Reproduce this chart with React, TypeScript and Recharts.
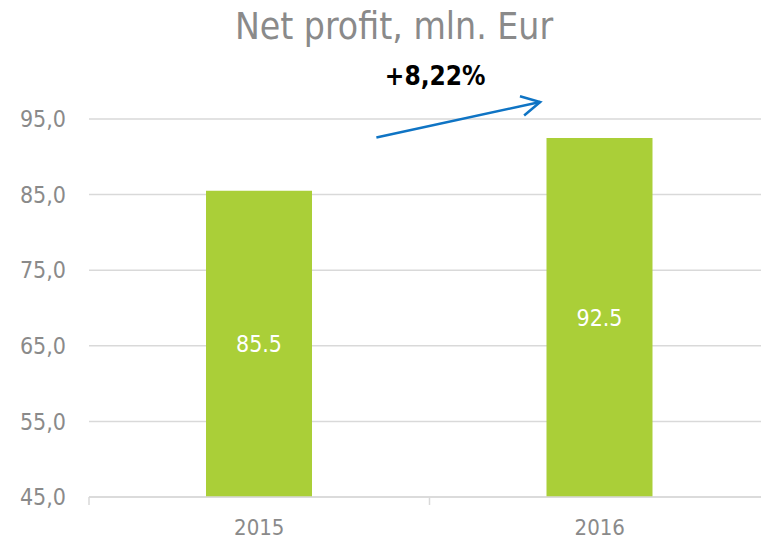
import React from 'react'
import {
  BarChart, Bar, XAxis, YAxis, CartesianGrid, LabelList, ReferenceLine,
} from 'recharts'

const years = ['2015', '2016']
const profit = [85.5, 92.5]
const yTicks = [45, 55, 65, 75, 85, 95]
const growthLabel = '+8,22%'
// position of each category on the edge axis (band centres)
const slots = [0.5, 1.5]
// band edges (tick marks) + band centres (year labels)
const edgeTicks = [0, 0.5, 1, 1.5, 2]
// arrow start/end in (edge units, mln. Eur)
const arrowFrom = { x: 0.844, y: 92.55 }
const arrowTo = { x: 1.325, y: 97.25 }

const FONT = '"DejaVu Sans Condensed", "DejaVu Sans", sans-serif'
const GREY = '#8a8a8a'
const GRID = '#d9d9d9'
const TICK_SIZE = 8
const TICK_MARGIN = 14

const data = years.map((year, i) => ({ year, slot: slots[i], profit: profit[i] }))

const EdgeTick = (props: any) => {
  const { x, y, payload } = props
  const v = payload.value
  if (Number.isInteger(v)) {
    const top = y - TICK_SIZE - TICK_MARGIN
    return <line x1={x} x2={x} y1={top} y2={top + TICK_SIZE} stroke={GRID} strokeWidth={1.5} />
  }
  const idx = slots.indexOf(v)
  return (
    <text x={x} y={y} dy="0.71em" textAnchor="middle" fill={GREY} fontSize={22} fontFamily={FONT}>
      {years[idx]}
    </text>
  )
}

const ArrowShape = (props: any) => {
  const { x1, y1, x2, y2 } = props
  if ([x1, y1, x2, y2].some((v) => typeof v !== 'number')) return null
  const len = Math.hypot(x2 - x1, y2 - y1)
  const ux = (x1 - x2) / len
  const uy = (y1 - y2) / len
  const head = (deg: number) => {
    const a = (deg * Math.PI) / 180
    const hx = ux * Math.cos(a) - uy * Math.sin(a)
    const hy = ux * Math.sin(a) + uy * Math.cos(a)
    return { x: x2 + hx * 21, y: y2 + hy * 21 }
  }
  const h1 = head(28)
  const h2 = head(-28)
  return (
    <g>
      <line x1={x1} y1={y1} x2={x2} y2={y2} stroke="#0f74c4" strokeWidth={2.5} />
      <polyline
        points={`${h1.x},${h1.y} ${x2},${y2} ${h2.x},${h2.y}`}
        fill="none"
        stroke="#0f74c4"
        strokeWidth={2.5}
      />
      <text
        x={x2 - 105}
        y={y2 - 17}
        textAnchor="middle"
        fontFamily={FONT}
        fontWeight="bold"
        fontSize={26}
        fill="#000"
      >
        {growthLabel}
      </text>
    </g>
  )
}

export default function App() {
  return (
    <div style={{ position: 'absolute', top: 0, left: 0, width: 761, height: 539, overflow: 'hidden', background: '#fff' }}>
      <div
        style={{
          position: 'absolute', left: 0, top: 7, width: 788, textAlign: 'center',
          fontFamily: FONT, fontSize: 37, color: GREY, lineHeight: '40px',
        }}
      >
        Net profit, mln. Eur
      </div>
      <BarChart
        width={780}
        height={539}
        data={data}
        margin={{ top: 119, right: 10, bottom: 0, left: 0 }}
        style={{ position: 'absolute', top: 0, left: 0 }}
      >
        <CartesianGrid vertical={false} stroke={GRID} strokeWidth={1.5} />
        <XAxis dataKey="year" hide height={0} />
        <XAxis
          xAxisId="edges"
          dataKey="slot"
          type="number"
          domain={[0, 2]}
          allowDataOverflow
          ticks={edgeTicks}
          interval={0}
          height={42}
          tickSize={TICK_SIZE}
          tickMargin={TICK_MARGIN}
          axisLine={{ stroke: GRID, strokeWidth: 1.5 }}
          tickLine={false}
          tick={EdgeTick}
        />
        <YAxis
          width={89}
          domain={[45, 95]}
          ticks={yTicks}
          allowDataOverflow
          axisLine={false}
          tickLine={false}
          tickMargin={17}
          tick={{ fill: GREY, fontSize: 23, fontFamily: FONT }}
          tickFormatter={(v: number) => v.toFixed(1).replace('.', ',')}
        />
        <Bar dataKey="profit" fill="#aacf38" barSize={106} isAnimationActive={false}>
          <LabelList
            dataKey="profit"
            position="center"
            fill="#ffffff"
            fontSize={23}
            fontFamily={FONT}
          />
        </Bar>
        <ReferenceLine
          xAxisId="edges"
          segment={[arrowFrom, arrowTo]}
          ifOverflow="visible"
          shape={ArrowShape}
        />
      </BarChart>
    </div>
  )
}
